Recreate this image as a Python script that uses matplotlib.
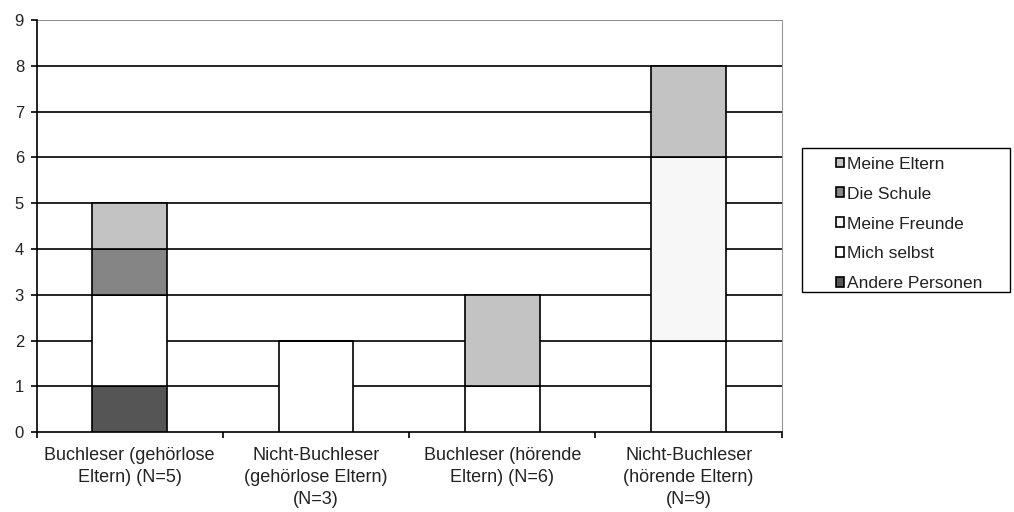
import numpy as np
import matplotlib.pyplot as plt
from matplotlib.patches import Rectangle

plt.rcParams['font.family'] = ['Liberation Sans', 'DejaVu Sans']

# --- Data ---
categories = [
    "Buchleser (gehörlose\nEltern) (N=5)",
    "Nicht-Buchleser\n(gehörlose Eltern)\n(N=3)",
    "Buchleser (hörende\nEltern) (N=6)",
    "Nicht-Buchleser\n(hörende Eltern)\n(N=9)",
]
# stacked bottom -> top
series_names = ["Andere Personen", "Mich selbst", "Meine Freunde", "Die Schule", "Meine Eltern"]
andere_personen = [1, 0, 0, 0]
mich_selbst = [2, 2, 1, 2]
meine_freunde = [0, 0, 0, 4]
die_schule = [1, 0, 0, 0]
meine_eltern = [1, 0, 2, 2]
series_values = [andere_personen, mich_selbst, meine_freunde, die_schule, meine_eltern]
colors = ["#555555", "#ffffff", "#f7f7f7", "#858585", "#c3c3c3"]

fig = plt.figure(figsize=(10.14, 5.12), dpi=100)
ax = fig.add_axes([0.036, 0.156, 0.735, 0.805])

x = np.arange(len(categories))
bottom = np.zeros(len(categories))
handles = []
for name, vals, col in zip(series_names, series_values, colors):
    vals = np.array(vals, dtype=float)
    b = ax.bar(x, vals, 0.4, bottom=bottom, color=col, edgecolor='black',
               linewidth=1.2, label=name, zorder=3)
    handles.append(b)
    bottom += vals

# gridlines behind bars
ax.set_ylim(0, 9)
ax.set_xlim(-0.5, len(categories) - 0.5)
ax.set_yticks(range(0, 10))
for yv in range(1, 9):
    ax.axhline(yv, color='black', linewidth=1.2, zorder=1)
ax.axhline(9, color='#777777', linewidth=1.2, zorder=1)

# spines
ax.spines['top'].set_visible(False)
ax.spines['right'].set_color('#999999')
ax.spines['left'].set_linewidth(1.2)
ax.spines['bottom'].set_linewidth(1.2)

# ticks
ax.set_xticks(x)
ax.set_xticklabels(categories, fontsize=13, color='#222222', linespacing=1.35)
ax.tick_params(axis='x', length=0, pad=11)
ax.set_xticks(np.arange(-0.5, len(categories)), minor=True)
ax.tick_params(axis='x', which='minor', length=4, width=1.2, direction='out')
ax.tick_params(axis='y', length=4, width=1.2, labelsize=12, pad=5, labelcolor='#222222')

# legend box drawn separately (wide left padding like the original)
fig.patches.append(Rectangle((0.791, 0.430), 0.205, 0.281, transform=fig.transFigure,
                             fill=False, edgecolor='black', linewidth=1.0))
leg = fig.legend(handles[::-1], series_names[::-1], loc='upper left',
                 bbox_to_anchor=(0.824, 0.694), frameon=False, fontsize=12.5,
                 handlelength=0.5, handleheight=0.5, handletextpad=0.15,
                 labelspacing=0.86, borderpad=0, borderaxespad=0)
for t in leg.get_texts():
    t.set_color('#222222')

fig.savefig('out.png', dpi=100)
